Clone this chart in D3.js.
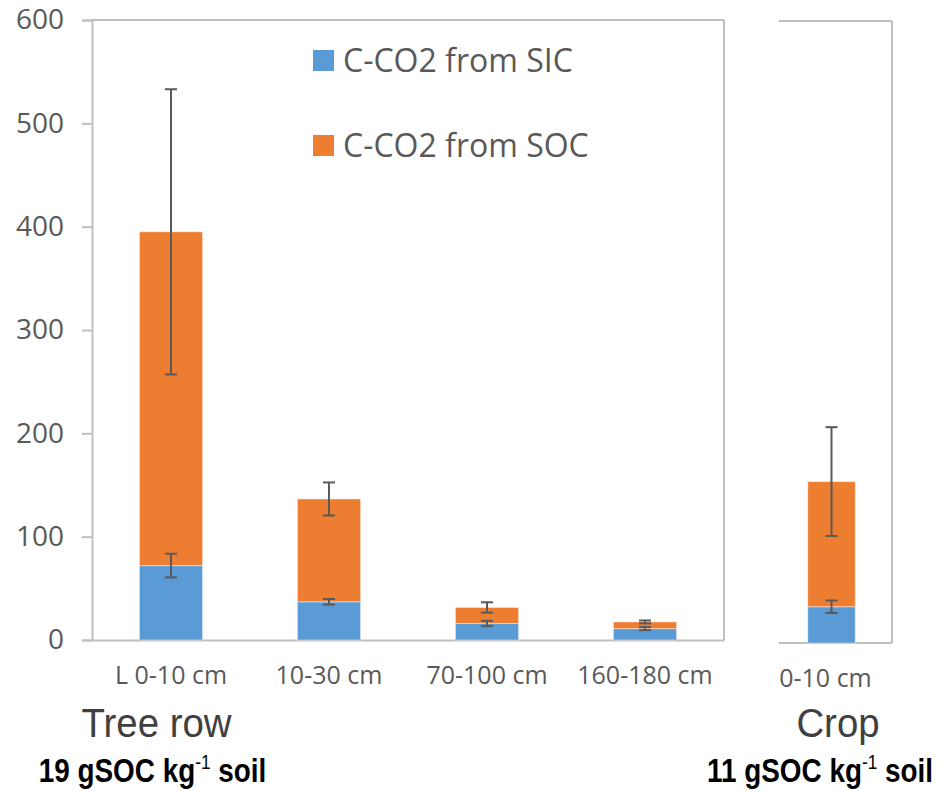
<!DOCTYPE html>
<html>
<head>
<meta charset="utf-8">
<script src="https://cdn.jsdelivr.net/npm/d3@7"></script>
<style>
  html, body { margin: 0; padding: 0; background: #ffffff; }
  svg { display: block; }
</style>
</head>
<body>
<svg id="chart" width="940" height="791"></svg>
<script>
// Tree-row depths (left panel)
const categories = ["L 0-10 cm", "10-30 cm", "70-100 cm", "160-180 cm"];
const sicValues = [72, 37, 16, 11];          // C-CO2 from SIC
const socValues = [323, 99.5, 15.5, 6.5];    // C-CO2 from SOC (stacked on SIC)
const sicErrors = [11.5, 2.7, 2.6, 1.5];
const totalErrors = [138, 16, 5, 1.4];

// Crop (right panel)
const cropCategories = ["0-10 cm"];
const cropSicValues = [35];
const cropSocValues = [120.7];
const cropSicErrors = [6];
const cropTotalErrors = [52.5];

const yTicks = [0, 100, 200, 300, 400, 500, 600];
const seriesNames = ["C-CO2 from SIC", "C-CO2 from SOC"];
const colors = ["#5b9bd5", "#ed7d31"];

const svg = d3.select("#chart");
const axisColor = "#bfbfbf";
const errColor = "#595959";
const tickFont = "'Open Sans', sans-serif";

// ---------- left panel ----------
const L = { left: 92, right: 724, top: 20, bottom: 640 };
const y = d3.scaleLinear().domain([0, 600]).range([L.bottom, L.top]);
const x = d3.scaleBand().domain(categories).range([L.left, L.right]).padding(0);
const barW = x.bandwidth() * 0.4;

// frame: top and right borders
svg.append("line").attr("x1", L.left).attr("x2", L.right).attr("y1", L.top).attr("y2", L.top)
  .attr("stroke", axisColor).attr("stroke-width", 2);
svg.append("line").attr("x1", L.right).attr("x2", L.right).attr("y1", L.top).attr("y2", L.bottom)
  .attr("stroke", axisColor).attr("stroke-width", 2);

// y axis
const yAxis = svg.append("g").attr("transform", `translate(${L.left},0)`)
  .call(d3.axisLeft(y).tickValues(yTicks).tickSize(10).tickPadding(18).tickFormat(d3.format("d")));
yAxis.select(".domain").attr("stroke", axisColor).attr("stroke-width", 2);
yAxis.selectAll(".tick line").attr("stroke", axisColor).attr("stroke-width", 2);
yAxis.selectAll(".tick text").attr("fill", "#595959").style("font-family", tickFont).style("font-size", "28px");

// x axis
const xAxis = svg.append("g").attr("transform", `translate(0,${L.bottom})`)
  .call(d3.axisBottom(x).tickSize(0).tickPadding(26));
xAxis.select(".domain").attr("stroke", axisColor).attr("stroke-width", 2);
xAxis.selectAll(".tick text").attr("fill", "#595959").style("font-family", tickFont).style("font-size", "25px");

function drawBars(g, xs, ys, cats, sic, soc, sicErr, totErr, width) {
  const rows = cats.map((c, i) => ({ c, sic: sic[i], soc: soc[i], total: sic[i] + soc[i], se: sicErr[i], te: totErr[i] }));
  const cx = d => xs(d.c) + xs.bandwidth() / 2;
  // SIC
  g.selectAll(null).data(rows).enter().append("rect")
    .attr("x", d => cx(d) - width / 2).attr("width", width)
    .attr("y", d => ys(d.sic)).attr("height", d => ys(0) - ys(d.sic))
    .attr("fill", colors[0]).attr("stroke", "rgba(255,255,255,0.45)").attr("stroke-width", 1);
  // SOC stacked
  g.selectAll(null).data(rows).enter().append("rect")
    .attr("x", d => cx(d) - width / 2).attr("width", width)
    .attr("y", d => ys(d.total)).attr("height", d => ys(d.sic) - ys(d.total))
    .attr("fill", colors[1]).attr("stroke", "rgba(255,255,255,0.45)").attr("stroke-width", 1);
  // error bars
  const errs = [];
  rows.forEach(d => {
    errs.push({ x: cx(d), v: d.sic, e: d.se });
    errs.push({ x: cx(d), v: d.total, e: d.te });
  });
  const eg = g.selectAll(null).data(errs).enter().append("g")
    .attr("stroke", errColor).attr("stroke-width", 2);
  eg.append("line").attr("x1", d => d.x).attr("x2", d => d.x)
    .attr("y1", d => ys(d.v + d.e)).attr("y2", d => ys(d.v - d.e));
  eg.append("line").attr("x1", d => d.x - 6).attr("x2", d => d.x + 6)
    .attr("y1", d => ys(d.v + d.e)).attr("y2", d => ys(d.v + d.e));
  eg.append("line").attr("x1", d => d.x - 6).attr("x2", d => d.x + 6)
    .attr("y1", d => ys(d.v - d.e)).attr("y2", d => ys(d.v - d.e));
}

drawBars(svg.append("g"), x, y, categories, sicValues, socValues, sicErrors, totalErrors, barW);

// ---------- right panel ----------
const R = { left: 779, right: 892, top: 21, bottom: 643 };
const yc = d3.scaleLinear().domain([0, 600]).range([R.bottom, R.top]);
const xc = d3.scaleBand().domain(cropCategories).range([771, R.right]).padding(0);
const cropBarW = xc.bandwidth() * 0.393;

svg.append("line").attr("x1", R.left).attr("x2", R.right).attr("y1", R.top).attr("y2", R.top)
  .attr("stroke", axisColor).attr("stroke-width", 2);
svg.append("line").attr("x1", R.right).attr("x2", R.right).attr("y1", R.top).attr("y2", R.bottom)
  .attr("stroke", axisColor).attr("stroke-width", 2);
svg.append("line").attr("x1", R.left).attr("x2", R.right).attr("y1", R.bottom).attr("y2", R.bottom)
  .attr("stroke", axisColor).attr("stroke-width", 2);

drawBars(svg.append("g"), xc, yc, cropCategories, cropSicValues, cropSocValues, cropSicErrors, cropTotalErrors, cropBarW);

svg.append("g").selectAll(null).data(cropCategories).enter().append("text")
  .attr("x", d => xc(d) + xc.bandwidth() / 2 - 6).attr("y", 687)
  .attr("text-anchor", "middle").attr("fill", "#595959")
  .style("font-family", tickFont).style("font-size", "25px").text(d => d);

// ---------- legend ----------
const legend = svg.append("g");
seriesNames.forEach((name, i) => {
  const ly = 50 + i * 85;
  legend.append("rect").attr("x", 313).attr("y", ly).attr("width", 21).attr("height", 21).attr("fill", colors[i]);
  legend.append("text").attr("x", 343).attr("y", ly + 22).attr("fill", "#595959")
    .style("font-family", tickFont).style("font-size", "32px").text(name);
});

// ---------- group captions ----------
const groups = [
  { title: "Tree row", cx: 156.5, soc: "19" },
  { title: "Crop", cx: 838, soc: "11" }
];
groups.forEach(gd => {
  svg.append("text")
    .attr("transform", `translate(${gd.cx},737) scale(0.96,1)`)
    .attr("text-anchor", "middle").attr("fill", "#404040")
    .style("font-family", "'Liberation Sans', Arial, sans-serif").style("font-size", "40px")
    .text(gd.title);
});

function socCaption(cx, value) {
  const t = svg.append("text")
    .attr("transform", `translate(${cx},782) scale(0.82,1)`)
    .attr("text-anchor", "middle").attr("fill", "#000000")
    .style("font-family", "'Liberation Sans', Arial, sans-serif").style("font-size", "34px").style("font-weight", "bold");
  t.append("tspan").text(`${value} gSOC kg`);
  t.append("tspan").attr("dy", -13).style("font-size", "21px").style("font-weight", "normal").text("-1");
  t.append("tspan").attr("dy", 13).text(" soil");
}
socCaption(152.5, groups[0].soc);
socCaption(820, groups[1].soc);
</script>
</body>
</html>
